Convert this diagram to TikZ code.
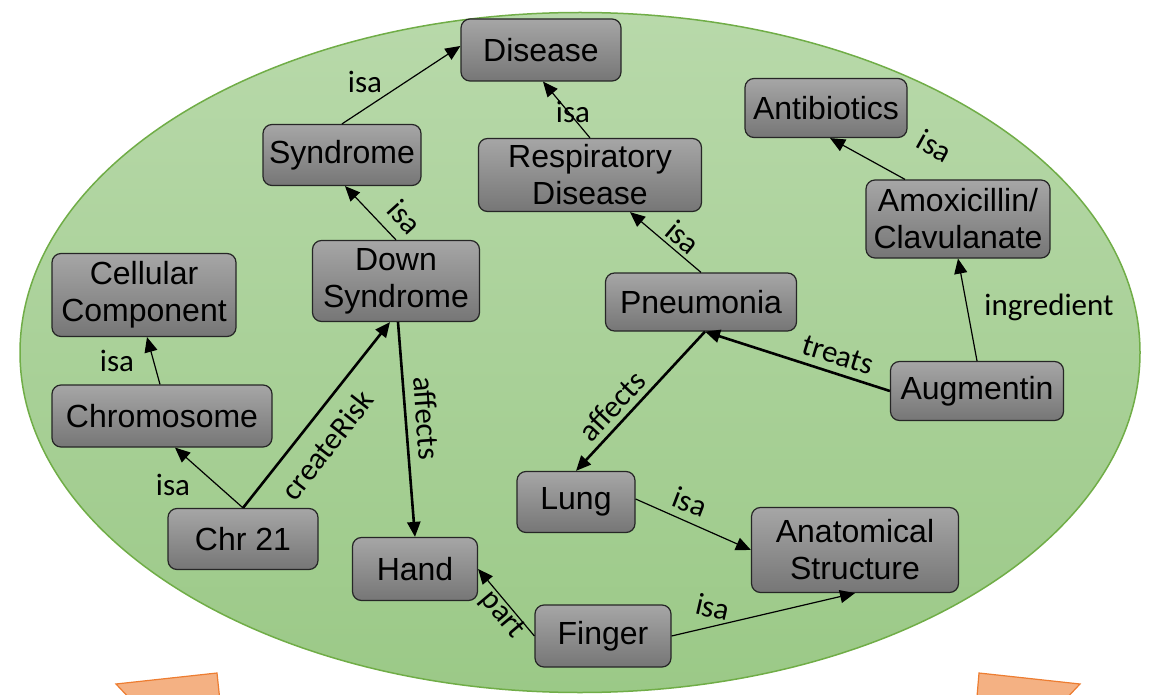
\documentclass[tikz,border=0pt]{standalone}
\usepackage{fontspec}
\setmainfont{Liberation Sans}
\newfontfamily\lblfont{Carlito}
\usetikzlibrary{arrows.meta}
\definecolor{nodetop}{HTML}{A6A6A6}
\definecolor{nodebot}{HTML}{767676}
\definecolor{elltop}{HTML}{B8D9AA}
\definecolor{ellbot}{HTML}{9BC987}
\definecolor{ellline}{HTML}{70AD47}
\definecolor{orfill}{HTML}{F4B183}
\definecolor{orline}{HTML}{ED7D31}
\begin{document}
\begin{tikzpicture}[x=1pt,y=-1pt,
  box/.style={draw=black!85, line width=1.2pt, rounded corners=9pt, top color=nodetop, bottom color=nodebot, align=center, inner sep=0pt, font=\fontsize{32}{37}\selectfont},
  lbl/.style={font=\lblfont\fontsize{31}{34}\selectfont, inner sep=0pt},
  thinarrow/.style={-{Triangle[length=15pt,width=13pt]}, line width=1.2pt},
  thickarrow/.style={-{Triangle[length=15pt,width=13pt]}, line width=2.6pt}]
\useasboundingbox (0,0) rectangle (1154,695);
\clip (0,0) rectangle (1154,695);
% orange arrows (tops)
\draw[fill=orfill, draw=orline, line width=1.2pt] (116,684) -- (217,673) -- (222,720) -- (150,720) -- cycle;
\draw[fill=orfill, draw=orline, line width=1.2pt] (979,673) -- (1080,684) -- (1046,720) -- (975,720) -- cycle;
% ellipse
\draw[draw=ellline, line width=1.5pt, top color=elltop, bottom color=ellbot] (580,352.5) ellipse [x radius=560pt, y radius=340pt];
% nodes
\node[box, minimum width=160pt, minimum height=62pt] (dis) at (541,50) {Disease};
\node[box, minimum width=158pt, minimum height=61pt] (syn) at (342,155) {Syndrome};
\node[box, minimum width=223pt, minimum height=73pt] (resp) at (590,175) {Respiratory\\Disease};
\node[box, minimum width=162pt, minimum height=59pt] (anti) at (826,108) {Antibiotics};
\node[box, minimum width=184pt, minimum height=78pt] (amox) at (958,219) {Amoxicillin/\\Clavulanate};
\node[box, minimum width=184pt, minimum height=83pt] (cell) at (144,295) {Cellular\\Component};
\node[box, minimum width=167pt, minimum height=81pt] (down) at (396,281) {Down\\Syndrome};
\node[box, minimum width=191pt, minimum height=58pt] (pneu) at (701,302) {Pneumonia};
\node[box, minimum width=220pt, minimum height=62pt] (chromo) at (162,416) {Chromosome};
\node[box, minimum width=173pt, minimum height=59pt] (aug) at (977,391) {Augmentin};
\node[box, minimum width=118pt, minimum height=61pt] (lung) at (576,502) {Lung};
\node[box, minimum width=150pt, minimum height=61pt] (chr) at (243,539) {Chr 21};
\node[box, minimum width=207pt, minimum height=85pt] (anat) at (855,550) {Anatomical\\Structure};
\node[box, minimum width=125pt, minimum height=63pt] (hand) at (415,569) {Hand};
\node[box, minimum width=136pt, minimum height=62pt] (fing) at (603,636) {Finger};
% connectors
\draw[thinarrow] (syn.north) -- ([yshift=4pt]dis.west);
\draw[thinarrow] (resp.north) -- ([xshift=2pt]dis.south);
\draw[thinarrow] (down.north) -- ([xshift=3pt]syn.south);
\draw[thinarrow] ([xshift=-53pt]amox.north) -- ([xshift=4pt]anti.south);
\draw[thinarrow] (pneu.north) -- ([xshift=40pt]resp.south);
\draw[thinarrow] (aug.north) -- (amox.south);
\draw[thinarrow] ([xshift=-2pt]chromo.north) -- ([xshift=3pt]cell.south);
\draw[thinarrow] (chr.north) -- ([xshift=13pt]chromo.south);
\draw[thickarrow] (chr.north) -- ([xshift=-6pt]down.south);
\draw[thickarrow] ([xshift=2pt]down.south) -- (hand.north);
\draw[thickarrow] (aug.west) -- ([xshift=4pt]pneu.south);
\draw[thickarrow] ([xshift=4pt]pneu.south) -- (lung.north);
\draw[thinarrow] ([yshift=3pt]lung.east) -- (anat.west);
\draw[thinarrow] (fing.west) -- (hand.east);
\draw[thinarrow] (fing.east) -- (anat.south);
% labels
\node[lbl] (l1) at (365,82) {isa};
\node[lbl] (l2) at (573,112) {isa};
\node[lbl, rotate=-48] (l3) at (405,217) {isa};
\node[lbl, rotate=-29] (l4) at (935,146) {isa};
\node[lbl, rotate=-40] (l5) at (683,237) {isa};
\node[lbl] (l6) at (1049,307) {ingredient};
\node[lbl] (l7) at (117,361) {isa};
\node[lbl] (l8) at (173,485) {isa};
\node[lbl, rotate=52] (l9) at (327,445) {createRisk};
\node[lbl, rotate=-86] (l10) at (427,418) {affects};
\node[lbl, rotate=-17] (l11) at (838,355) {treats};
\node[lbl, rotate=47] (l12) at (612,406) {affects};
\node[lbl, rotate=-21] (l13) at (690,502) {isa};
\node[lbl, rotate=-50] (l14) at (502,615) {part};
\node[lbl, rotate=-13] (l15) at (713,607) {isa};
\end{tikzpicture}
\end{document}
